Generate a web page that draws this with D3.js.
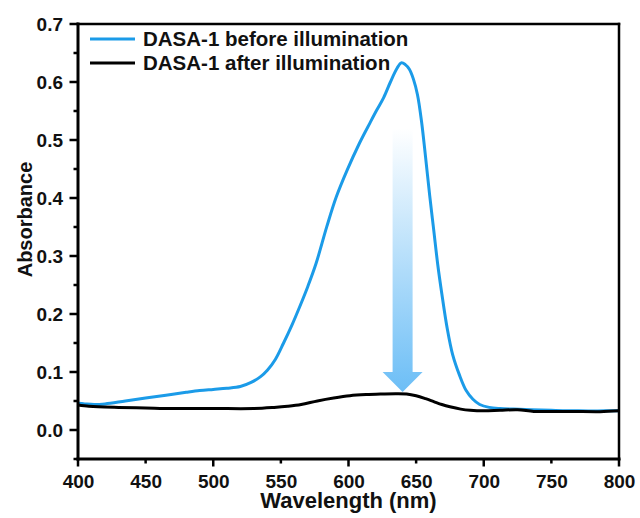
<!DOCTYPE html>
<html>
<head>
<meta charset="utf-8">
<script src="https://cdn.jsdelivr.net/npm/d3@7"></script>
<style>
    body { margin: 0; background: #fff; }
    #chart { width: 640px; height: 518px; }
    text { font-family: "Liberation Sans", Arial, sans-serif; font-weight: bold; fill: #111; }
</style>
</head>
<body>
<div id="chart"></div>
<script>
// Spectra (wavelength in nm, absorbance)
const beforeWl = [400, 405, 412, 420, 435, 450, 465, 480, 490, 500, 510, 520, 528, 535, 540, 546, 552, 558, 564, 570, 576, 584, 591, 599, 608, 616, 621, 626, 631, 636, 639, 642, 645, 648, 651, 654, 657, 660, 663, 666, 669, 673, 677, 682, 687, 692, 697, 704, 712, 722, 735, 750, 770, 790, 800];
const beforeAbs = [0.046, 0.045, 0.044, 0.045, 0.050, 0.055, 0.060, 0.065, 0.068, 0.070, 0.072, 0.075, 0.082, 0.092, 0.103, 0.122, 0.150, 0.180, 0.213, 0.248, 0.287, 0.351, 0.402, 0.448, 0.494, 0.530, 0.552, 0.573, 0.600, 0.624, 0.633, 0.630, 0.622, 0.605, 0.578, 0.532, 0.470, 0.405, 0.345, 0.285, 0.235, 0.175, 0.130, 0.095, 0.068, 0.053, 0.044, 0.039, 0.037, 0.036, 0.035, 0.034, 0.033, 0.033, 0.033];

const afterWl = [400, 408, 415, 430, 450, 470, 500, 530, 545, 555, 565, 577, 589, 601, 613, 625, 635, 643, 650, 657, 663, 669, 675, 683, 690, 700, 712, 725, 737, 750, 765, 786, 800];
const afterAbs = [0.043, 0.041, 0.040, 0.039, 0.038, 0.037, 0.037, 0.037, 0.039, 0.041, 0.044, 0.050, 0.055, 0.059, 0.061, 0.062, 0.0625, 0.062, 0.059, 0.054, 0.049, 0.044, 0.040, 0.036, 0.034, 0.033, 0.034, 0.035, 0.032, 0.032, 0.032, 0.0316, 0.033];

const series = [
    { name: 'DASA-1 before illumination', wl: beforeWl, abs: beforeAbs, color: '#1b9be8' },
    { name: 'DASA-1 after illumination', wl: afterWl, abs: afterAbs, color: '#000000' }
];

const xTicks = [400, 450, 500, 550, 600, 650, 700, 750, 800];
const yTicks = [0.0, 0.1, 0.2, 0.3, 0.4, 0.5, 0.6, 0.7];
const yMinorTicks = [-0.05, 0.05, 0.15, 0.25, 0.35, 0.45, 0.55, 0.65];

// Arrow annotation: wavelength and absorbance of top, head base and tip
const arrowWl = 640;
const arrowAbs = [0.52, 0.1, 0.0655];

const width = 640, height = 518;
const margin = { top: 24, right: 21, bottom: 59, left: 78 };

const svg = d3.select('#chart').append('svg')
    .attr('width', width)
    .attr('height', height);

const x = d3.scaleLinear().domain([400, 800]).range([margin.left, width - margin.right]);
const y = d3.scaleLinear().domain([-0.05, 0.7]).range([height - margin.bottom, margin.top]);

// Gradient for the arrow
const grad = svg.append('defs').append('linearGradient')
    .attr('id', 'arrowGrad')
    .attr('x1', 0).attr('y1', 0).attr('x2', 0).attr('y2', 1);
grad.append('stop').attr('offset', '0%').attr('stop-color', '#ffffff');
grad.append('stop').attr('offset', '100%').attr('stop-color', '#6cbef6');

// Arrow
const ax = x(arrowWl);
const shaftW = 10, headW = 20;
const arrowPts = [
    [ax - shaftW, y(arrowAbs[0])],
    [ax + shaftW, y(arrowAbs[0])],
    [ax + shaftW, y(arrowAbs[1])],
    [ax + headW, y(arrowAbs[1])],
    [ax, y(arrowAbs[2])],
    [ax - headW, y(arrowAbs[1])],
    [ax - shaftW, y(arrowAbs[1])]
];
svg.append('polygon')
    .attr('points', arrowPts.map(p => p.join(',')).join(' '))
    .attr('fill', 'url(#arrowGrad)');

// Curves
const line = d3.line()
    .x(d => x(d[0]))
    .y(d => y(d[1]))
    .curve(d3.curveCatmullRom.alpha(0.5));

series.forEach(s => {
    svg.append('path')
        .datum(s.wl.map((w, i) => [w, s.abs[i]]))
        .attr('fill', 'none')
        .attr('stroke', s.color)
        .attr('stroke-width', 3)
        .attr('stroke-linejoin', 'round')
        .attr('d', line);
});

// Axes: labels from d3 axis
const xAxis = svg.append('g')
    .attr('transform', `translate(0,${y(-0.05)})`)
    .call(d3.axisBottom(x).tickValues(xTicks).tickSize(6).tickPadding(10).tickFormat(d3.format('d')));
const yAxis = svg.append('g')
    .attr('transform', `translate(${x(400)},0)`)
    .call(d3.axisLeft(y).tickValues(yTicks).tickSize(7).tickPadding(8).tickFormat(d3.format('.1f')));
[xAxis, yAxis].forEach(a => {
    a.select('.domain').remove();
    a.selectAll('.tick line').remove();
    a.selectAll('.tick text').style('font-size', '19px').attr('fill', '#111');
});

const px0 = x(400), px1 = x(800), py0 = y(-0.05), py1 = y(0.7);

// Axis lines, frame and ticks
const axisG = svg.append('g').attr('fill', '#000');
axisG.append('rect').attr('x', px0 - 1.5).attr('y', py1 - 1.5).attr('width', 3).attr('height', py0 - py1 + 3);
axisG.append('rect').attr('x', px0 - 1.5).attr('y', py0 - 1.5).attr('width', px1 - px0 + 3).attr('height', 3);
axisG.append('rect').attr('x', px0 - 1.5).attr('y', py1 - 1.25).attr('width', px1 - px0 + 2.75).attr('height', 2.5);
axisG.append('rect').attr('x', px1 - 1.25).attr('y', py1 - 1.25).attr('width', 2.5).attr('height', py0 - py1 + 2.5);
axisG.selectAll('.xt').data(xTicks).enter().append('rect')
    .attr('x', d => x(d) - 1.25).attr('y', py0)
    .attr('width', 2.5).attr('height', d => d % 100 === 0 ? 7.5 : 4.5);
axisG.selectAll('.yt').data(yTicks.concat(yMinorTicks)).enter().append('rect')
    .attr('x', (d, i) => px0 - (i < yTicks.length ? 8.5 : 4.5)).attr('y', d => y(d) - 1.25)
    .attr('width', (d, i) => i < yTicks.length ? 8.5 : 4.5).attr('height', 2.5);

// Axis titles
svg.append('text')
    .attr('x', (px0 + px1) / 2)
    .attr('y', 508)
    .attr('text-anchor', 'middle')
    .style('font-size', '22px')
    .text('Wavelength (nm)');

svg.append('text')
    .attr('transform', `translate(32,${(py1 + py0) / 2 - 22}) rotate(-90)`)
    .attr('text-anchor', 'middle')
    .style('font-size', '20px')
    .text('Absorbance');

// Legend
const legend = svg.append('g');
series.forEach((s, i) => {
    const ly = 39 + i * 24;
    legend.append('line')
        .attr('x1', 90).attr('x2', 135)
        .attr('y1', ly).attr('y2', ly)
        .attr('stroke', s.color)
        .attr('stroke-width', 3);
    legend.append('text')
        .attr('x', 143)
        .attr('y', ly)
        .attr('dy', '0.36em')
        .style('font-size', '20.5px')
        .text(s.name);
});
</script>
</body>
</html>
